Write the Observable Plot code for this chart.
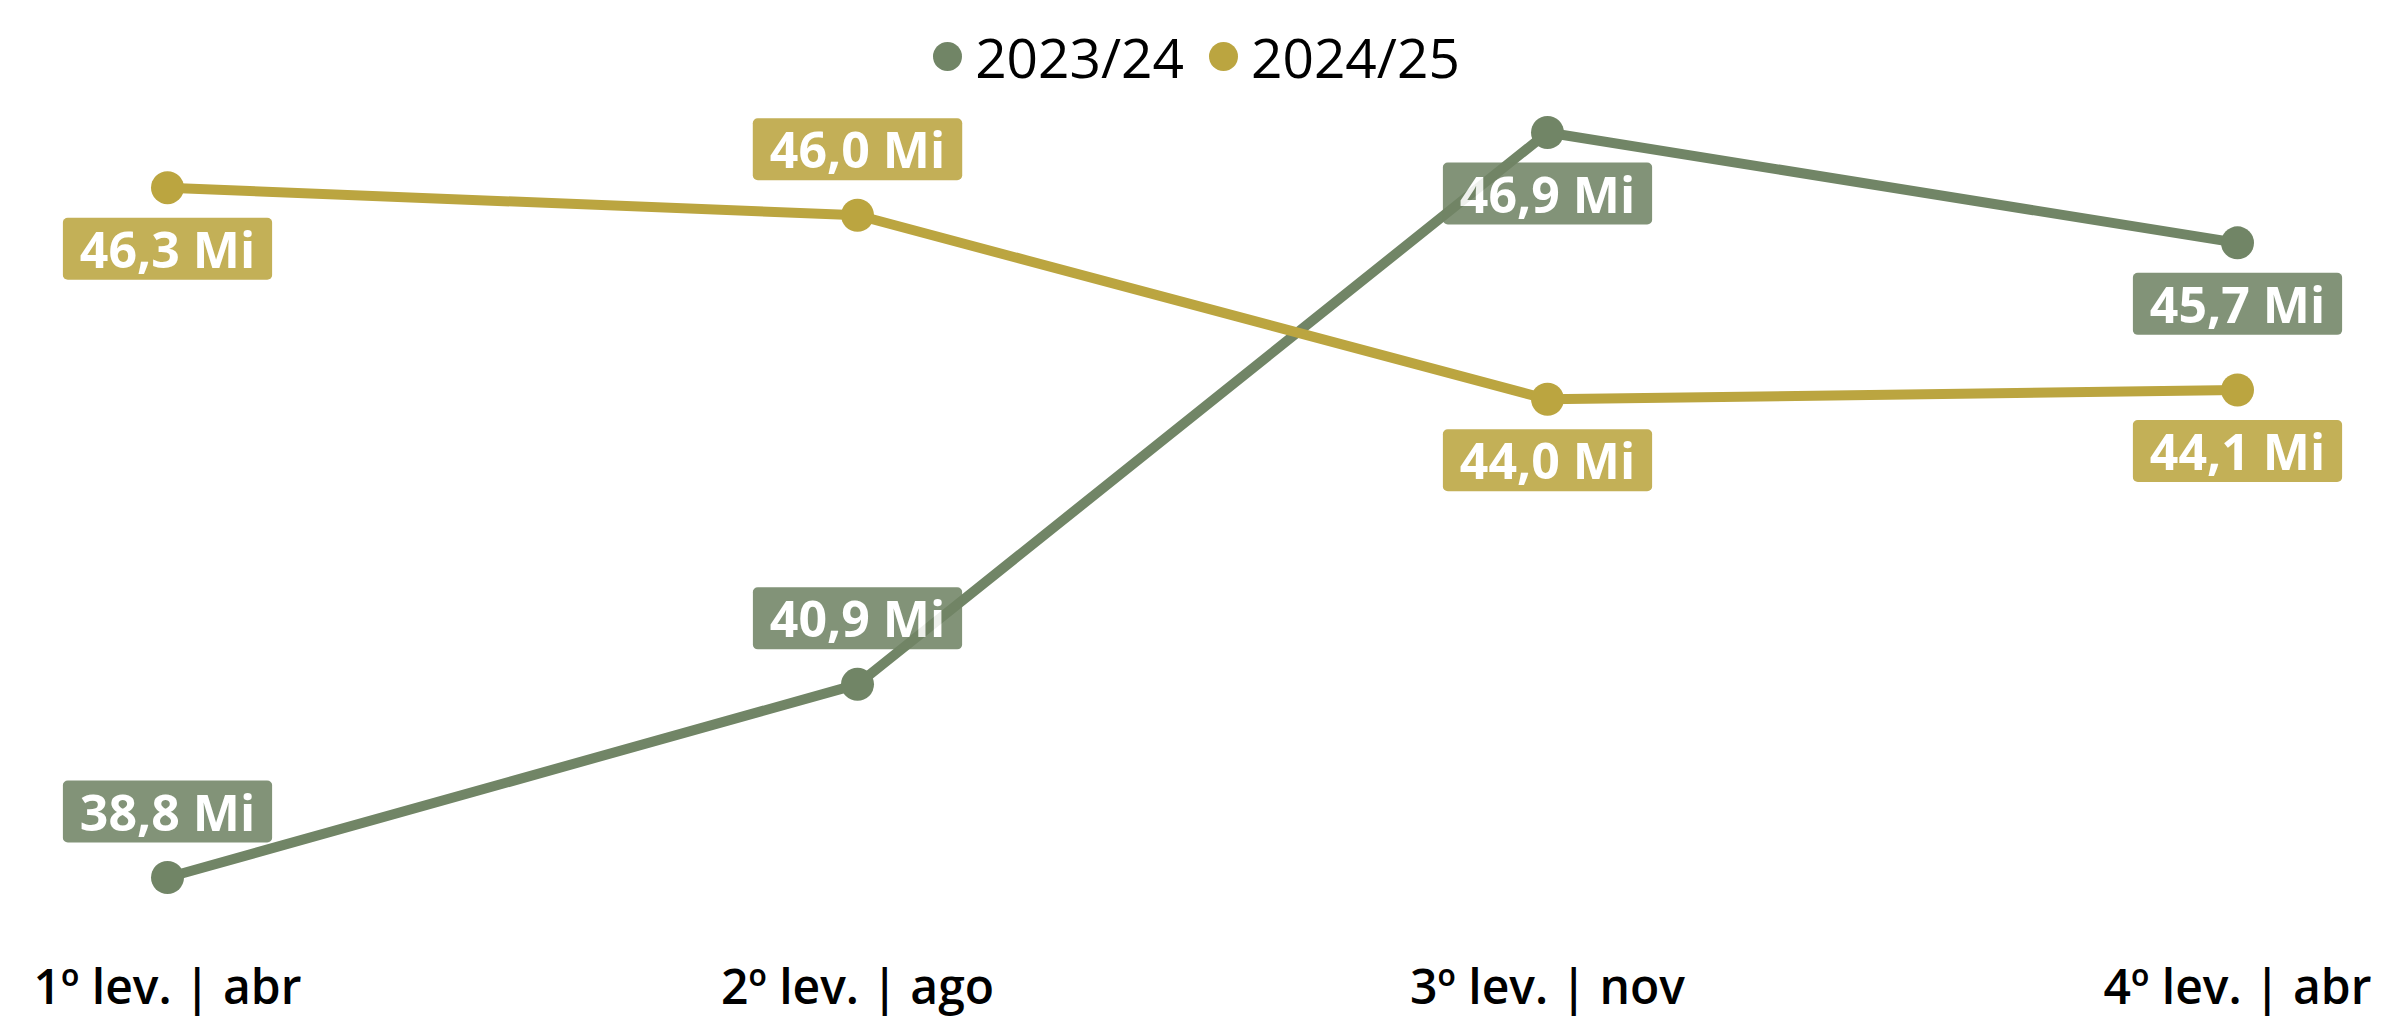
<!DOCTYPE html>
<html><head><meta charset="utf-8">
<script src="https://cdn.jsdelivr.net/npm/d3@7"></script>
<script src="https://cdn.jsdelivr.net/npm/@observablehq/plot@0.6"></script>
<style>
html,body{margin:0;padding:0;background:#fff;font-family:"Open Sans",sans-serif;overflow:hidden;}
#legend{height:100px;box-sizing:border-box;padding-top:12px;padding-left:10px;display:flex;justify-content:center;align-items:center;gap:25px;}
.item{display:flex;align-items:center;gap:13px;font-size:55px;font-weight:500;color:#000;line-height:1;}
.sw{width:29px;height:29px;border-radius:50%;display:inline-block;}
</style></head><body>
<div id="legend"></div>
<div id="chart"></div>
<script>
const periods = ["1º lev. | abr", "2º lev. | ago", "3º lev. | nov", "4º lev. | abr"];
const seriesNames = ["2023/24", "2024/25"];
const values2324 = [38.8, 40.9, 46.9, 45.7];
const values2425 = [46.3, 46.0, 44.0, 44.1];
const labelSide2324 = ["above", "above", "below", "below"];
const labelSide2425 = ["below", "above", "below", "below"];
const seriesColors = ["#718566", "#bba540"];

const fmt = v => v.toFixed(1).replace(".", ",") + " Mi";
const rows = [];
[[values2324, labelSide2324], [values2425, labelSide2425]].forEach(([vals, sides], s) => {
  vals.forEach((v, i) => rows.push({series: seriesNames[s], si: s, period: periods[i], value: v, side: sides[i], label: fmt(v)}));
});

// legend
const legend = document.getElementById("legend");
seriesNames.forEach((n, i) => {
  const it = document.createElement("div"); it.className = "item";
  const sw = document.createElement("span"); sw.className = "sw"; sw.style.background = seriesColors[i];
  const t = document.createElement("span"); t.textContent = n;
  it.append(sw, t); legend.append(it);
});

const labelMarks = [];
const labelSeries = [];
seriesNames.forEach((n, s) => {
  ["above", "below"].forEach(side => {
    labelSeries.push(s);
    labelMarks.push(Plot.text(rows.filter(r => r.si === s && r.side === side), {
      x: "period", y: "value", text: "label",
      dy: side === "above" ? -63 : 64,
      fill: "white", fontSize: 50, fontWeight: 700
    }));
  });
});

const plot = Plot.plot({
  width: 2383, height: 918,
  marginLeft: 167, marginRight: 146, marginTop: 32, marginBottom: 141,
  x: {type: "point", domain: periods, padding: 0, label: null},
  y: {domain: [38.8, 46.9], axis: null},
  color: {domain: seriesNames, range: seriesColors},
  style: {fontFamily: "Open Sans", background: "white", color: "#000", overflow: "visible"},
  marks: [
    Plot.axisX({tickSize: 0, tickPadding: 92, fontSize: 48, fontWeight: 600, label: null}),
    Plot.line(rows, {x: "period", y: "value", z: "series", stroke: "series", strokeWidth: 10}),
    Plot.dot(rows, {x: "period", y: "value", fill: "series", r: 16.5}),
    ...labelMarks
  ]
});
document.getElementById("chart").append(plot);

// add rounded background boxes behind value labels
const groups = Array.from(plot.querySelectorAll('g[aria-label="text"]'));
groups.forEach((g, gi) => {
  const s = labelSeries[gi];
  g.setAttribute("opacity", 0.88);
  g.querySelectorAll("text").forEach(t => {
    const b = t.getBBox();
    const r = document.createElementNS("http://www.w3.org/2000/svg", "rect");
    r.setAttribute("x", b.x - 17);
    r.setAttribute("y", b.y + 3);
    r.setAttribute("width", b.width + 34);
    r.setAttribute("height", b.height - 6);
    r.setAttribute("rx", 5);
    r.setAttribute("fill", seriesColors[s]);
    if (t.getAttribute("transform")) r.setAttribute("transform", t.getAttribute("transform"));
    g.insertBefore(r, t);
  });
});
</script>
</body></html>
